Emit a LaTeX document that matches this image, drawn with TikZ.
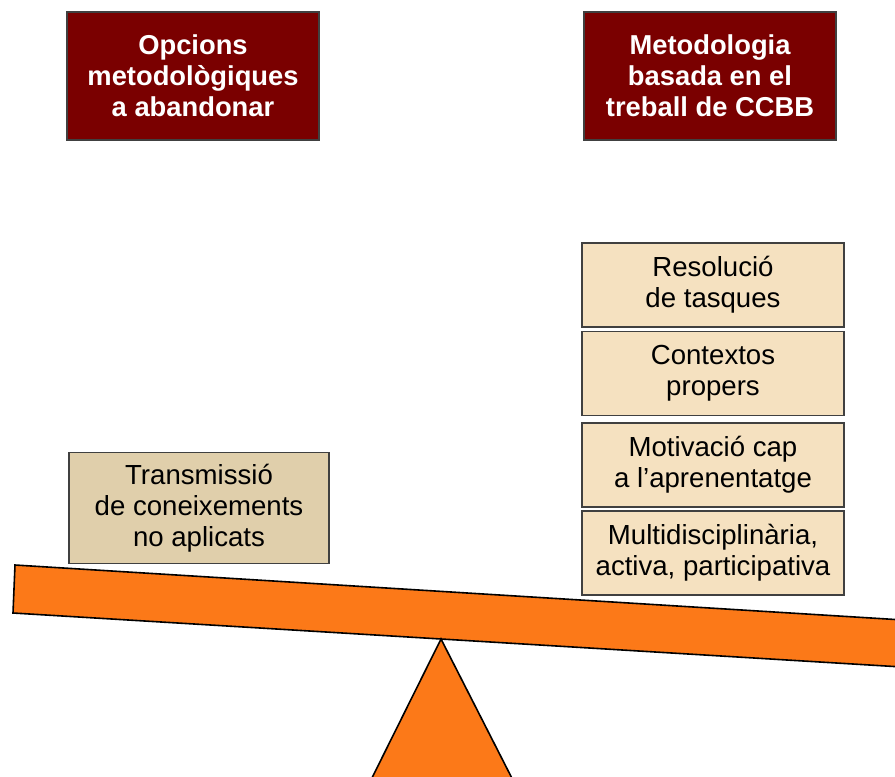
\documentclass[tikz,border=0pt]{standalone}
\usepackage{fontspec}
\setmainfont{Liberation Sans}
\usepackage{xcolor}
\definecolor{hdrred}{HTML}{7A0000}
\definecolor{tanold}{HTML}{E0CFAB}
\definecolor{tannew}{HTML}{F5E1C0}
\definecolor{beamor}{HTML}{FC7918}
\tikzset{hdr/.style={rectangle,draw=black!75,line width=1.2pt,fill=hdrred,text=white,align=center,minimum width=189pt,minimum height=96pt,font=\fontsize{20.5}{23.3}\selectfont\bfseries}}
\tikzset{itm/.style={rectangle,draw=black!75,line width=1.2pt,fill=tannew,align=center,minimum width=196.5pt,minimum height=63pt,inner sep=0pt,font=\fontsize{20.7}{23.3}\selectfont}}
\tikzset{old/.style={itm,fill=tanold,minimum width=195pt,minimum height=83.25pt}}

\begin{document}
\begin{tikzpicture}[x=0.75pt,y=-0.75pt]
    \useasboundingbox (0,0) rectangle (895,776);
    \clip (0,0) rectangle (895,776);

    \node[hdr] (opc) at (193,76) {Opcions\\metodològiques\\a abandonar};
    \node[hdr] (met) at (710,76) {Metodologia\\basada en el\\treball de CCBB};

    \node[old] (trans) at (199,508) {Transmissió\\de coneixements\\no aplicats};

    \node[itm] (res) at (713,285) {Resolució\\de tasques};
    \node[itm] (ctx) at (713,373.5) {Contextos\\propers};
    \node[itm] (mot) at (713,465) {Motivació cap\\a l’aprenentatge};
    \node[itm] (mul) at (713,553) {Multidisciplinària,\\activa, participativa};

    % balanca
    \draw[fill=beamor,line width=1.2pt] (15,565) -- (960,623.5) -- (960,670.5) -- (13,613) -- cycle;
    \draw[fill=beamor,line width=1.2pt] (441,639) -- (363,796) -- (521,796) -- cycle;
\end{tikzpicture}
\end{document}
